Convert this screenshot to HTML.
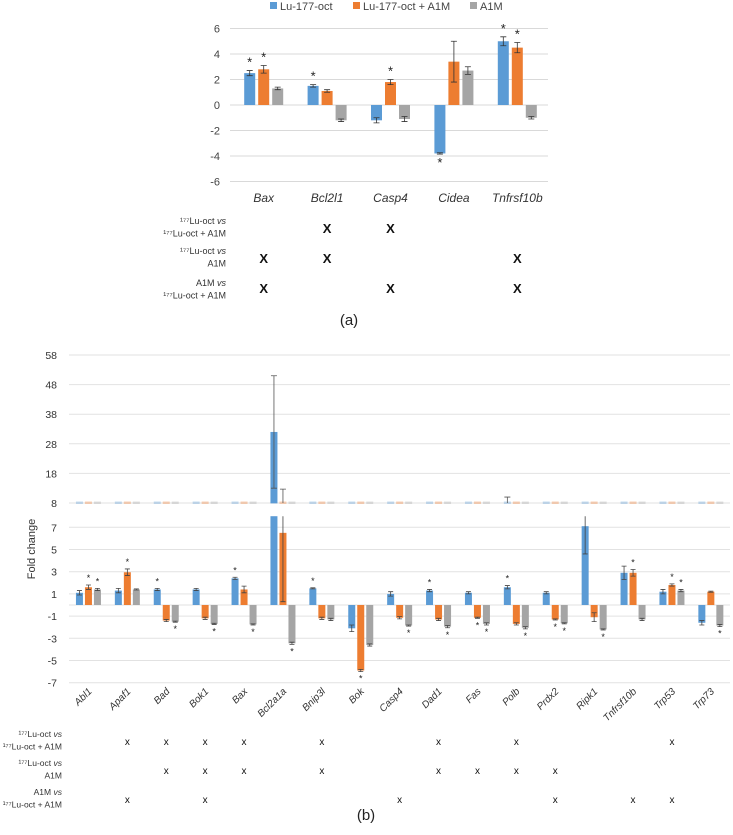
<!DOCTYPE html>
<html><head><meta charset="utf-8"><style>
body{margin:0;background:#fff;width:733px;height:835px;overflow:hidden}
svg{display:block;font-family:"Liberation Sans",sans-serif}
</style></head><body>
<svg id="fig" width="733" height="835" viewBox="0 0 733 835">
<g id="pa"></g>
<g id="pb"></g>
</svg>
<script>
// ---------- Panel (a) data ----------
const aCategories = ["Bax","Bcl2l1","Casp4","Cidea","Tnfrsf10b"];
const aSeriesNames = ["Lu-177-oct","Lu-177-oct + A1M","A1M"];
const aBlue = [2.5,1.5,-1.2,-3.8,5.0];
const aOrange = [2.8,1.1,1.8,3.4,4.5];
const aGray = [1.3,-1.2,-1.1,2.7,-1.0];
const aBlueErr = [0.2,0.1,0.2,0.05,0.35];
const aOrangeErr = [0.3,0.1,0.2,1.6,0.4];
const aGrayErr = [0.1,0.1,0.2,0.3,0.1];
const aBlueStar = [1,1,0,1,1];
const aOrangeStar = [1,0,1,0,1];
const aGrayStar = [0,0,0,0,0];
const aTicks = [6,4,2,0,-2,-4,-6];
const aRow1 = [0,1,1,0,0];
const aRow2 = [1,1,0,0,1];
const aRow3 = [1,0,1,0,1];

// ---------- Panel (b) data ----------
const bCategories = ["Abl1","Apaf1","Bad","Bok1","Bax","Bcl2a1a","Bnip3l","Bok","Casp4","Dad1","Fas","Polb","Prdx2","Ripk1","Tnfrsf10b","Trp53","Trp73"];
const bBlue = [1.1,1.3,1.4,1.4,2.4,32,1.5,-2.1,1.0,1.3,1.1,1.6,1.1,7.1,2.9,1.2,-1.6];
const bOrange = [1.6,2.95,-1.4,-1.2,1.4,6.5,-1.2,-5.9,-1.15,-1.3,-1.15,-1.7,-1.3,-1.1,2.9,1.8,1.2];
const bGray = [1.4,1.4,-1.5,-1.7,-1.75,-3.45,-1.3,-3.6,-1.85,-1.95,-1.7,-2.05,-1.65,-2.2,-1.3,1.3,-1.85];
const bBlueErr = [0.2,0.2,0.1,0.1,0.1,19,0.05,0.3,0.2,0.1,0.1,0.15,0.1,2.5,0.6,0.2,0.2];
const bOrangeErr = [0.2,0.3,0.1,0.1,0.3,6.2,0.1,0.1,0.1,0.1,0.05,0.1,0.05,0.4,0.3,0.1,0.05];
const bGrayErr = [0.1,0.05,0.05,0.05,0.05,0.1,0.1,0.1,0.05,0.1,0.1,0.1,0.05,0.05,0.1,0.1,0.1];
// blue-series error caps visible in the upper (broken) segment where the bar itself isn't
const bBlueUpperCap = [0,0,0,0,0,0,0,0,0,0,0,10,0,0,0,0,0];
const bBlueStar = [0,0,1,0,1,0,1,0,0,1,0,1,0,0,0,0,0];
const bOrangeStar = [1,1,0,0,0,0,0,1,0,0,1,0,1,0,1,1,0];
const bGrayStar = [1,0,1,1,1,1,0,0,1,1,1,1,1,1,0,1,1];
const bUpperTicks = [58,48,38,28,18,8];
const bLowerTicks = [7,5,3,1,-1,-3,-5,-7];
const bRow1 = [0,1,1,1,1,0,1,0,0,1,0,1,0,0,0,1,0];
const bRow2 = [0,0,1,1,1,0,1,0,0,1,1,1,1,0,0,0,0];
const bRow3 = [0,1,0,1,0,0,0,0,1,0,0,0,1,0,1,1,0];

const NS="http://www.w3.org/2000/svg";
const COLORS=["#5b9bd5","#ed7d31","#a5a5a5"];
function mk(parent,tag,attrs,text){const e=document.createElementNS(NS,tag);for(const k in attrs)e.setAttribute(k,attrs[k]);if(text!==undefined)e.textContent=text;parent.appendChild(e);return e;}

// ===== Panel A =====
(function(){
const g=document.getElementById('pa');
const x0=232,cw=63.4,zero=105,ppu=12.75;
const ya=v=>zero-v*ppu;
const xc=i=>x0+cw*(i+0.5);
const legX=[270,353,470];
aSeriesNames.forEach((n,k)=>{
  const r=mk(g,'rect',{x:legX[k],y:2,width:7,height:7,fill:COLORS[k]});
  
  
  const t=mk(g,'text',{x:legX[k]+10,y:10,'font-size':11,fill:'#444'},n);
  
  
});
aTicks.forEach(v=>{
  const l=mk(g,'line',{x1:230,x2:548,y1:ya(v),y2:ya(v),stroke:'#d9d9d9','stroke-width':1});
  
  
  const t=mk(g,'text',{x:220,y:ya(v)+4,'font-size':11,'text-anchor':'end',fill:'#444'},String(v));
  
  
});
const series=[[aBlue,aBlueErr,aBlueStar],[aOrange,aOrangeErr,aOrangeStar],[aGray,aGrayErr,aGrayStar]];
aCategories.forEach((c,i)=>{
  series.forEach((s,k)=>{
    const v=s[0][i],e=s[1][i],cx=xc(i)+(k-1)*14;
    const r=mk(g,'rect',{x:cx-5.5,y:Math.min(ya(v),zero),width:11,height:Math.abs(ya(v)-zero),fill:COLORS[k]});
    
    
    const eb=mk(g,'path',{d:`M${cx} ${ya(v+e)}V${ya(v-e)}M${cx-3} ${ya(v+e)}H${cx+3}M${cx-3} ${ya(v-e)}H${cx+3}`,stroke:'#333','stroke-width':0.8,fill:'none'});
    
    
    if(s[2][i]){
      const sy=v>=0?ya(v+e)-4:ya(v-e)+13;
      const st=mk(g,'text',{x:cx,y:sy,'font-size':13,'text-anchor':'middle',fill:'#222'},'*');
      
      
    }
  });
  const t=mk(g,'text',{x:xc(i),y:202,'font-size':12,'font-style':'italic','text-anchor':'middle',fill:'#333'},c);
  
  
});
const rows=[[aRow1,228,["¹⁷⁷Lu-oct vs","¹⁷⁷Lu-oct  + A1M"],221],[aRow2,258,["¹⁷⁷Lu-oct vs","A1M"],251],[aRow3,288,["A1M vs","¹⁷⁷Lu-oct + A1M"],283]];
rows.forEach((r,ri)=>{
  r[2].forEach((ln,li)=>{
    const t=mk(g,'text',{x:226,y:r[3]+li*12.5+3,'font-size':9,'text-anchor':'end',fill:'#333'});
    
    
    const parts=ln.split(' vs');
    t.textContent=parts[0];
    if(parts.length>1){mk(t,'tspan',{'font-style':'italic'},' vs');}
  });
  r[0].forEach((m,i)=>{if(m){
    const t=mk(g,'text',{x:xc(i),y:r[1]+5,'font-size':13,'font-weight':'bold','text-anchor':'middle',fill:'#111'},'X');
    
    
  }});
});
const lab=mk(g,'text',{x:349,y:325,'font-size':15,'text-anchor':'middle',fill:'#222'},'(a)');


})();

// ===== Panel B =====
(function(){
const g=document.getElementById('pb');
const x0=69,cw=38.9;
const xc=i=>x0+cw*(i+0.5);
const upY=v=>503-(v-8)*2.96;
const loZero=605,loPpu=11.1;
const loY=v=>loZero-v*loPpu;
bUpperTicks.forEach(v=>{
  const l=mk(g,'line',{x1:69,x2:730,y1:upY(v),y2:upY(v),stroke:'#e2e2e2','stroke-width':1});
  
  
  const t=mk(g,'text',{x:57,y:upY(v)+4,'font-size':10.5,'text-anchor':'end',fill:'#333'},String(v));
  
  
});
bLowerTicks.forEach(v=>{
  const l=mk(g,'line',{x1:69,x2:730,y1:loY(v),y2:loY(v),stroke:'#e2e2e2','stroke-width':1});
  
  
  const t=mk(g,'text',{x:57,y:loY(v)+4,'font-size':10.5,'text-anchor':'end',fill:'#333'},String(v));
  
  
});
const zl=mk(g,'line',{x1:69,x2:730,y1:loZero,y2:loZero,stroke:'#e2e2e2','stroke-width':1});


const yt=mk(g,'text',{x:0,y:0,'font-size':11,'text-anchor':'middle',fill:'#333',transform:'translate(35,549) rotate(-90)'},'Fold change');


const clip=v=>Math.max(-7,Math.min(8,v));
const series=[[bBlue,bBlueErr,bBlueStar],[bOrange,bOrangeErr,bOrangeStar],[bGray,bGrayErr,bGrayStar]];
bCategories.forEach((c,i)=>{
  series.forEach((s,k)=>{
    const v=s[0][i],e=s[1][i],cx=xc(i)+(k-1)*9;
    const stub=mk(g,'rect',{x:cx-3.5,y:501.5,width:7,height:2.5,fill:COLORS[k],opacity:0.35});
    
    
    if(v>8){
      const r=mk(g,'rect',{x:cx-3.5,y:upY(v),width:7,height:503-upY(v),fill:COLORS[k]});
      
      
      const t=upY(Math.min(58,v+e)),b=upY(Math.max(8,v-e));
      const eb=mk(g,'path',{d:`M${cx} ${t}V${b}M${cx-3} ${t}H${cx+3}`+(v-e>8?`M${cx-3} ${b}H${cx+3}`:''),stroke:'#555','stroke-width':0.8,fill:'none'});
      
      
    } else if(k===1 && v+e>8){
      const t=upY(Math.min(58,v+e));
      const eb=mk(g,'path',{d:`M${cx} ${t}V503M${cx-3} ${t}H${cx+3}`,stroke:'#555','stroke-width':0.8,fill:'none'});
      
      
    }
    if(k===0 && bBlueUpperCap[i]){
      const t=upY(bBlueUpperCap[i]);
      const eb=mk(g,'path',{d:`M${cx} ${t}V503M${cx-3} ${t}H${cx+3}`,stroke:'#555','stroke-width':0.8,fill:'none'});
      
      
    }
    const vy=loY(clip(v));
    const r=mk(g,'rect',{x:cx-3.5,y:Math.min(vy,loZero),width:7,height:Math.abs(vy-loZero),fill:COLORS[k]});
    
    
    if(v<8){
      const t=loY(clip(v+e)),b=loY(clip(v-e));
      let d=`M${cx} ${t}V${b}M${cx-2.5} ${b}H${cx+2.5}`;
      if(v+e<8) d+=`M${cx-2.5} ${t}H${cx+2.5}`;
      const eb=mk(g,'path',{d:d,stroke:'#444','stroke-width':0.8,fill:'none'});
      
      
    }
    if(s[2][i]){
      const sy=v>=0?loY(v+e)-4:loY(v-e)+10;
      const st=mk(g,'text',{x:cx,y:sy,'font-size':9,'text-anchor':'middle',fill:'#222'},'*');
      
      
    }
  });
  const t=mk(g,'text',{x:0,y:0,'font-size':10,'font-style':'italic','text-anchor':'end',fill:'#333',transform:`translate(${xc(i)+4},692) rotate(-45)`},c);
  
  
});
const rows=[[bRow1,741,["¹⁷⁷Lu-oct vs","¹⁷⁷Lu-oct  + A1M"],734],[bRow2,770,["¹⁷⁷Lu-oct vs","A1M"],763],[bRow3,799,["A1M vs","¹⁷⁷Lu-oct + A1M"],792]];
rows.forEach((r,ri)=>{
  r[2].forEach((ln,li)=>{
    const t=mk(g,'text',{x:62,y:r[3]+li*12.5+3,'font-size':8.5,'text-anchor':'end',fill:'#333'});
    
    
    const parts=ln.split(' vs');
    t.textContent=parts[0];
    if(parts.length>1){mk(t,'tspan',{'font-style':'italic'},' vs');}
  });
  r[0].forEach((m,i)=>{if(m){
    const t=mk(g,'text',{x:xc(i),y:r[1]+4,'font-size':10,'text-anchor':'middle',fill:'#111'},'x');
    
    
  }});
});
const lab=mk(g,'text',{x:366,y:820,'font-size':15,'text-anchor':'middle',fill:'#222'},'(b)');


})();
</script>
</body></html>
